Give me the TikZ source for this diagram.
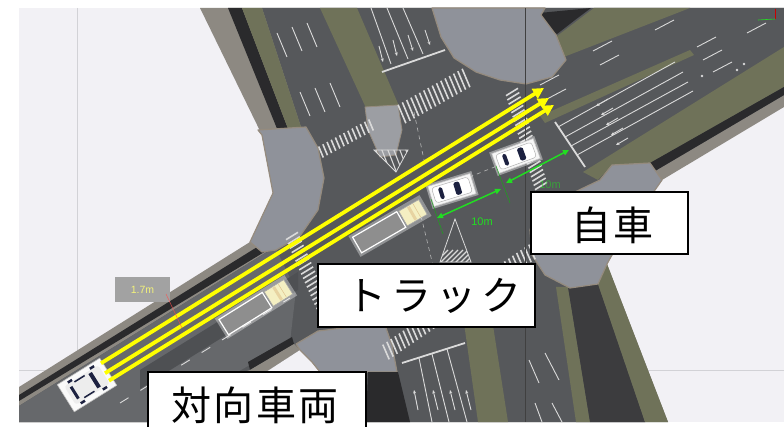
\documentclass[tikz,border=0pt]{standalone}
\usepackage{fontspec}
\setmainfont{Liberation Sans}
\newfontfamily\cjk{Noto Sans CJK JP}
\usetikzlibrary{calc,arrows.meta}
\definecolor{scenebg}{HTML}{F2F1F5}
\definecolor{walk}{HTML}{8D8982}
\definecolor{asph}{HTML}{56585B}
\definecolor{asphL}{HTML}{66686B}
\definecolor{asphD}{HTML}{4E5053}
\definecolor{grass}{HTML}{6F7259}
\definecolor{gravel}{HTML}{2A2A2C}
\definecolor{gravelB}{HTML}{3C3C3E}
\definecolor{plaza}{HTML}{8F929A}
\definecolor{curb}{HTML}{958B7E}
\definecolor{nose}{HTML}{9C9EA3}
\definecolor{mrk}{HTML}{DADADA}
\definecolor{navy}{HTML}{1C2140}
\definecolor{trk}{HTML}{8E8E8E}
\definecolor{cab}{HTML}{F4EFC2}
\definecolor{grn}{HTML}{22DD22}
\definecolor{ylw}{HTML}{FFFF00}
\definecolor{lblgray}{HTML}{A2A2A2}
\definecolor{lblyellow}{HTML}{F2F27A}
\definecolor{faintline}{HTML}{D2D2D6}

\newcommand\zebra[5]{\foreach \k in {0,...,#3}{\draw[zebrastyle] ($(#1)!\k/#3!(#2)$) ++(#4,#5) -- ++({-2*(#4)},{-2*(#5)});}}

\newcommand\egocar[2]{%
\begin{scope}[shift={(#1)},rotate=#2]
 \fill[white,opacity=0.4] (-24,-12.5) rectangle (24,12.5);
 \draw[gray!45,line width=0.6pt,fill=white!93!gray] (-22,-10.5) rectangle (22,10.5);
 \filldraw[draw=gray!60,fill=white,rounded corners=3pt,line width=0.5pt] (-19,-8) rectangle (19,8);
 \fill[navy,rounded corners=1.5pt] (3,-6.5) rectangle (9,6.5);
 \fill[navy,rounded corners=1.5pt] (-13,-6) rectangle (-9,6);
\end{scope}}

\newcommand\oncar[2]{%
\begin{scope}[shift={(#1)},rotate=#2]
 \draw[gray!50,line width=0.6pt,fill=white!96!gray] (-25,-16) rectangle (25,16);
 \fill[white!86!gray,rounded corners=3pt] (-20,-11) rectangle (20,11);
 \fill[navy] (7,-8.5) rectangle (11,8.5);
 \fill[navy] (-16,-7) rectangle (-13,7);
 \fill[navy] (-9,-10) rectangle (3,-8.5);
 \fill[navy] (-9,8.5) rectangle (3,10);
 \foreach \wx in {-15,11} {\fill[navy] (\wx,-13.5) rectangle ++(5,2.5); \fill[navy] (\wx,11) rectangle ++(5,2.5);}
\end{scope}}

\newcommand\truckveh[2]{%
\begin{scope}[shift={(#1)},rotate=#2]
 \fill[white,opacity=0.35] (-41,-12) rectangle (41,12);
 \filldraw[draw=white,line width=1.2pt,fill=trk] (-38,-9) rectangle (13,9);
 \filldraw[draw=gray!70,line width=0.6pt,fill=cab] (15,-8.5) rectangle (38,8.5);
 \fill[cab!75!brown] (24,-7.5) rectangle (27,7.5);
 \draw[cab!60!brown,line width=0.5pt] (31,-7.5) -- (31,7.5);
\end{scope}}

\begin{document}
\begin{tikzpicture}[x=1pt,y=-1pt,
  zebrastyle/.style={draw=mrk,line width=1.6pt},
  lane/.style={draw=mrk,line width=0.9pt},
  guide/.style={draw=mrk!85!black,line width=0.6pt,dash pattern=on 4pt off 4pt},
  stopline/.style={draw=mrk,line width=1.8pt},
  lanearrow/.style={draw=mrk,line width=0.9pt,-{Stealth[length=3.5pt,width=3pt]}},
  yarrow/.style={draw=ylw,line width=3.8pt,-{Triangle[length=11pt,width=11pt]}},
  garrow/.style={draw=grn,line width=1.5pt,{Triangle[length=6pt,width=5.5pt]}-{Triangle[length=6pt,width=5.5pt]}},
  gtick/.style={draw=grn!75!black,line width=0.5pt},
  glabel/.style={text=grn,font=\fontsize{11}{12}\selectfont,inner sep=0pt},
  tagbox/.style={draw=black,line width=1.6pt,fill=white,inner sep=0pt},
  jp/.style={font=\cjk\fontsize{40}{44}\selectfont,inner sep=0pt},
  faint/.style={draw=faintline,line width=0.8pt},
  vline/.style={draw=black!75,line width=0.6pt},
  plazafill/.style={fill=plaza,draw=curb,line width=1.2pt,line join=round}]
\useasboundingbox (0,0) rectangle (784,427);
\fill[white] (0,0) rectangle (784,427);
\fill[scenebg] (19,8) rectangle (784,422);
\draw[faint] (77,8) -- (77,422);
\draw[faint] (19,370) -- (784,370);

% base sidewalk and asphalt
\fill[walk] (200,8) -- (784,8) -- (784,107) -- (657,183) -- (607,264) -- (668,422) -- (19,422) -- (19,387) -- (250,242) -- (273,193) -- (262,135) -- cycle;
\fill[asph] (262,8) -- (784,8) -- (784,95) -- (655,171) -- (600,268) -- (645,422) -- (19,422) -- (19,406) -- (270,250) -- (310,215) -- (318,170) -- (303,133) -- cycle;
\fill[asphL] (19,406) -- (275,247) -- (296,290) -- (290,342) -- (150,422) -- (19,422) -- cycle;
\fill[asphD] (140,370) -- (298,272) -- (298,290) -- (140,389) -- cycle;

% upper cross road strips
\fill[gravel] (228,8) -- (242,8) -- (290,134) -- (280,136) -- cycle;
\fill[grass] (242,8) -- (262,8) -- (303,133) -- (290,134) -- cycle;
\fill[grass] (320,8) -- (357,8) -- (399,106) -- (366,108) -- cycle;
\filldraw[fill=nose,draw=curb,line width=0.8pt] (365,107) -- (398,105) -- (402,130) -- (396,155) -- (380,157) -- (368,130) -- cycle;

% top right strips
\fill[gravel] (539,13) -- (591,8) -- (575,20) -- (557,34) -- (546,28) -- cycle;
\fill[grass] (557,36) -- (594,8) -- (690,8) -- (556,60) -- cycle;
\fill[grass] (540,116) -- (690,50) -- (694,55) -- (545,123) -- cycle;
\fill[grass] (583,172) -- (784,47) -- (784,87) -- (650,163) -- (612,165) -- (598,180) -- cycle;
\fill[gravel] (650,163) -- (784,87) -- (784,95) -- (655,171) -- cycle;

% upper-left main edge
\fill[gravel] (19,395) -- (262,244) -- (266,251) -- (19,401) -- cycle;

% lower-left corner
\fill[gravel] (248,362) -- (292,337) -- (294,344) -- (250,370) -- cycle;
\fill[walk] (250,370) -- (294,344) -- (300,350) -- (266,372) -- (244,372) -- cycle;
\fill[scenebg] (266,372) -- (300,350) -- (312,362) -- (320,372) -- cycle;
\path[plazafill] (296,344) -- (318,331) -- (360,326) -- (385,325) -- (392,345) -- (397,372) -- (320,372) -- (312,362) -- (300,350) -- cycle;

% lower cross road strips
\fill[gravel] (368,372) -- (398,372) -- (410,422) -- (366,422) -- cycle;
\fill[grass] (464,323) -- (492,319) -- (508,422) -- (478,422) -- cycle;
\fill[grass] (556,287) -- (568,287) -- (590,422) -- (576,422) -- cycle;
\fill[gravelB] (568,287) -- (598,284) -- (645,422) -- (590,422) -- cycle;
\fill[grass] (598,284) -- (607,264) -- (668,422) -- (645,422) -- cycle;

% corner plazas
\path[plazafill] (258,130) -- (306,127) -- (318,148) -- (324,178) -- (318,210) -- (300,236) -- (276,250) -- (262,252) -- (250,242) -- (273,193) -- (262,135) -- cycle;
\path[plazafill] (432,8) -- (545,8) -- (541,15) -- (556,35) -- (566,60) -- (552,77) -- (526,84) -- (500,80) -- (476,72) -- (454,58) -- (441,37) -- cycle;
\path[plazafill] (575,192) -- (600,180) -- (612,165) -- (650,163) -- (662,180) -- (620,240) -- (607,264) -- (598,284) -- (570,288) -- (545,275) -- (532,255) -- (530,230) -- (540,200) -- cycle;

% crosswalks
\zebra{321,152}{371,125}{12}{2.3}{5.5}
\zebra{402,114}{466,78}{15}{3.9}{9.2}
\zebra{512,92}{541,186}{22}{6}{-3.7}
\zebra{292,236}{328,318}{19}{6}{-3.7}
\zebra{386,352}{532,252}{36}{3.2}{7.4}

% stop lines
\draw[stopline] (382,72) -- (445,50);
\draw[stopline] (555,122) -- (585,167);
\draw[stopline] (402,363) -- (465,343);

% lane markings, upper cross road
\foreach \a/\b in {277/33,292/27,307/23,300/92,315/88,330/83}
  \draw[lane] (\a,\b) -- ++(10,24);
\draw[lane] (371,8) -- (391,64);
\draw[lane] (387,8) -- (408,59);
\draw[lane] (403,8) -- (423,54);
\draw[lanearrow] (379,46) -- (383,62);
\draw[lanearrow] (393,40) -- (397,56);
\draw[lanearrow] (408,35) -- (413,51);
\draw[lanearrow] (425,30) -- (430,45);

% main road right
\foreach \a/\b in {540/85,547/99,593/51,600/65,655/30,697/47,703/60,713/72,747/33}
  \draw[lane] (\a,\b) -- ++(19,-10);
\draw[lane] (558,127) -- (675,62);
\draw[lane] (565,137) -- (683,72);
\draw[lane] (571,146) -- (688,82);
\draw[lane] (577,155) -- (693,91);
\draw[lanearrow] (608,99) -- (596,106);
\draw[lanearrow] (613,108) -- (601,115);
\draw[lanearrow] (618,118) -- (606,125);
\draw[lanearrow] (623,128) -- (611,135);
\draw[lanearrow] (628,138) -- (616,145);
\foreach \a/\b in {702/76,737/70,744/64} \fill[mrk] (\a,\b) circle (1.3);

% lower cross road
\draw[lane] (419,358) -- (432,422);
\draw[lane] (432,354) -- (449,422);
\draw[lane] (447,349) -- (467,422);
\draw[lanearrow] (418,410) -- (414,390);
\draw[lanearrow] (438,410) -- (433,390);
\draw[lanearrow] (455,410) -- (450,390);
\draw[lanearrow] (471,410) -- (466,390);
\draw[lane] (529,360) -- (539,383);
\draw[lane] (545,353) -- (559,380);
\draw[lane] (535,403) -- (542,422);
\draw[lane] (552,403) -- (562,422);

% main road left
\draw[lane,dash pattern=on 10pt off 14pt] (120,403) -- (290,298);

% guides and hatched islands
\draw[guide] (414,112) -- (424,160);
\draw[guide] (421,216) -- (437,282);
\draw[guide] (462,180) -- (497,166);
\begin{scope}
 \clip (374,150) -- (408,150) -- (396,172) -- cycle;
 \foreach \k in {0,...,9} \draw[draw=mrk,line width=1.1pt] (360+\k*6,140) -- ++(14,36);
\end{scope}
\draw[draw=mrk,line width=0.8pt] (374,150) -- (408,150) -- (396,172) -- cycle;
\begin{scope}
 \clip (455,219) -- (471,262) -- (440,262) -- cycle;
 \foreach \k in {0,...,10} \draw[draw=mrk,line width=1.1pt] (425+\k*5,268) -- ++(18,-18);
\end{scope}
\draw[draw=mrk,line width=0.8pt] (455,219) -- (471,262) -- (440,262) -- cycle;

\draw[vline] (525,8) -- (525,422);

% vehicles
\oncar{87,385}{32}
\truckveh{256,307}{32}
\truckveh{390,226}{30}
\egocar{452,190}{17}
\egocar{516,156}{20}

% yellow path arrows
\coordinate (ys1) at (101,363.3);
\coordinate (ys2) at (105,373.2);
\coordinate (ys3) at (109,380.7);
\coordinate (ye1) at (544,88);
\coordinate (ye2) at (549,98);
\coordinate (ye3) at (554,105);
\draw[yarrow] (ys1) -- (ye1);
\draw[yarrow] (ys2) -- (ye2);
\draw[yarrow] (ys3) -- (ye3);

% green distance markers
\draw[gtick] (431,199) -- (443,234);
\draw[gtick] (496,166) -- (510,203);
\coordinate (ga1) at (437,218);
\coordinate (ga2) at (501,189);
\coordinate (gb1) at (506,183);
\coordinate (gb2) at (569,150);
\draw[garrow] (ga1) -- (ga2);
\draw[garrow] (gb1) -- (gb2);
\node[glabel] (d10a) at (482,222) {10m};
\node[glabel,opacity=0.55] (d10b) at (550,185) {10m};

% 1.7m label and red tick
\node[fill=lblgray,text=lblyellow,font=\fontsize{10.5}{12}\selectfont,minimum width=55pt,minimum height=25pt,inner sep=0pt] (len17) at (142.5,289.5) {1.7m};
\draw[red!70,line width=0.5pt,opacity=0.8] (166,294) -- (182,328);

% axis gizmo
\draw[red!80!black,line width=0.6pt] (775,9) -- (775,19);
\draw[grn,line width=0.6pt] (758,20) -- (775,19);

% callout boxes
\node[tagbox,minimum width=157pt,minimum height=62pt] (egobox) at (609.5,223) {};
\node[jp] (egotxt) at (612,225) {自\kern2pt車};
\node[tagbox,minimum width=217pt,minimum height=63pt] (truckbox) at (426.5,295.5) {};
\node[jp] (trucktxt) at (434,296) {ト\kern5ptラ\kern5ptッ\kern5ptク};
\node[tagbox,minimum width=218pt,minimum height=68pt] (oncbox) at (257,406) {};
\node[jp] (onctxt) at (255,405) {対\kern2.5pt向\kern2.5pt車\kern2.5pt両};
\end{tikzpicture}
\end{document}
